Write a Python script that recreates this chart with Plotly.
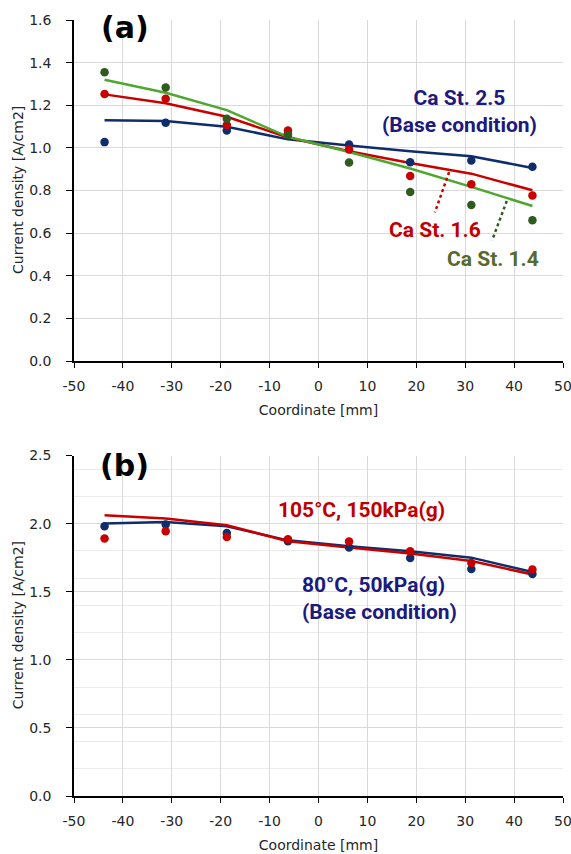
import plotly.graph_objects as go

# ---------------- data ----------------
x_mm = [-43.75, -31.25, -18.75, -6.25, 6.25, 18.75, 31.25, 43.75]

# panel (a): cathode stoichiometry
a_ca25_pts = [1.027, 1.118, 1.082, 1.065, 1.016, 0.933, 0.941, 0.911]
a_ca25_line = [1.130, 1.126, 1.099, 1.040, 1.011, 0.984, 0.961, 0.906]
a_ca16_pts = [1.253, 1.231, 1.107, 1.082, 0.992, 0.868, 0.829, 0.777]
a_ca16_line = [1.251, 1.209, 1.146, 1.049, 0.984, 0.929, 0.879, 0.801]
a_ca14_pts = [1.355, 1.283, 1.137, 1.060, 0.931, 0.793, 0.732, 0.660]
a_ca14_line = [1.320, 1.259, 1.177, 1.052, 0.981, 0.903, 0.817, 0.727]

# panel (b): temperature / pressure
b_base_pts = [1.980, 1.993, 1.931, 1.870, 1.824, 1.748, 1.667, 1.630]
b_base_line = [2.000, 2.012, 1.980, 1.877, 1.833, 1.797, 1.750, 1.645]
b_hot_pts = [1.890, 1.944, 1.902, 1.885, 1.868, 1.797, 1.711, 1.663]
b_hot_line = [2.061, 2.037, 1.988, 1.870, 1.824, 1.780, 1.726, 1.626]

x_ticks = [-50, -40, -30, -20, -10, 0, 10, 20, 30, 40, 50]
x_ticktext = ["-50", "-40", "-30", "-20", "-10", "0", "10", "20", "30", "40", "50"]
ya_ticks = [0.0, 0.2, 0.4, 0.6, 0.8, 1.0, 1.2, 1.4, 1.6]
yb_ticks = [0.0, 0.5, 1.0, 1.5, 2.0, 2.5]

# ---------------- styles ----------------
NAVY = "#0f2d6b"
RED = "#c80000"
GREEN_L = "#4ea72e"
GREEN_D = "#2f5b1f"
TXT_NAVY = "#1c1a7c"
TXT_RED = "#c00000"
TXT_GREEN = "#56692e"
NARROW = "Roboto, sans-serif"
AXFONT = "DejaVu Sans, sans-serif"
TICKFONT = dict(family=AXFONT, size=14, color="#262626")
TITLEFONT = dict(family=AXFONT, size=14, color="#262626")

fig = go.Figure()


def add_line(x, y, color, xa, ya):
    fig.add_trace(go.Scatter(x=x, y=y, mode="lines", line=dict(color=color, width=2.5),
                             xaxis=xa, yaxis=ya, showlegend=False, hoverinfo="skip"))


def add_pts(x, y, color, xa, ya):
    fig.add_trace(go.Scatter(x=x, y=y, mode="markers", marker=dict(color=color, size=8.5),
                             xaxis=xa, yaxis=ya, showlegend=False))


# panel a
add_line(x_mm, a_ca25_line, NAVY, "x", "y")
add_line(x_mm, a_ca16_line, RED, "x", "y")
add_line(x_mm, a_ca14_line, GREEN_L, "x", "y")
add_pts(x_mm, a_ca25_pts, NAVY, "x", "y")
add_pts(x_mm, a_ca16_pts, RED, "x", "y")
add_pts(x_mm, a_ca14_pts, GREEN_D, "x", "y")

# panel b
add_line(x_mm, b_base_line, NAVY, "x2", "y2")
add_line(x_mm, b_hot_line, RED, "x2", "y2")
add_pts(x_mm, b_base_pts, NAVY, "x2", "y2")
add_pts(x_mm, b_hot_pts, RED, "x2", "y2")

W, H = 571, 854
PL, PR = 74, 571 - 563          # plot area x: 74..563
PT, PB = 20, 796                # plot area y: 20..796
PH = PB - PT
ya_dom = [(PB - 361) / PH, 1.0]
yb_dom = [0.0, (PB - 455.5) / PH]

xcommon = dict(range=[-50, 50], tickmode="array", tickvals=x_ticks, ticktext=x_ticktext,
               showgrid=True, gridcolor="#d9d9d9", gridwidth=1,
               showline=True, linecolor="black", linewidth=1.5,
               ticks="outside", ticklen=5, tickcolor="black", tickwidth=1.2,
               tickfont=TICKFONT, ticklabelstandoff=6, ticklabeloverflow="allow",
               zeroline=False, automargin=False,
               title=dict(text="Coordinate [mm]", font=TITLEFONT, standoff=13))
ycommon = dict(showgrid=True, gridcolor="#d9d9d9", gridwidth=1,
               showline=True, linecolor="black", linewidth=1.5,
               ticks="outside", ticklen=6, tickcolor="black", tickwidth=1.2,
               tickfont=TICKFONT, ticklabelstandoff=12, ticklabeloverflow="allow",
               zeroline=False, automargin=False)

fig.update_layout(
    width=W, height=H,
    margin=dict(l=PL, r=PR, t=PT, b=H - PB),
    paper_bgcolor="white", plot_bgcolor="white",
    xaxis=dict(**xcommon, anchor="y"),
    yaxis=dict(**ycommon, range=[0, 1.6], tickmode="array", tickvals=ya_ticks,
               ticktext=[f"{v:.1f}" for v in ya_ticks], domain=ya_dom, anchor="x"),
    xaxis2=dict(**xcommon, anchor="y2"),
    yaxis2=dict(**ycommon, range=[0, 2.5], tickmode="array", tickvals=yb_ticks,
                ticktext=[f"{v:.1f}" for v in yb_ticks], domain=yb_dom, anchor="x2",
                minor=dict(tickmode="linear", dtick=0.2, tick0=0, showgrid=True,
                           gridcolor="#ebebeb", gridwidth=1, ticks="")),
)

plot_w = W - PL - PR
ytitle_x = (17.5 - PL) / plot_w

LBL = dict(family="DejaVu Sans, sans-serif", size=30, color="black")
ann = []
ann.append(dict(x=ytitle_x, y=0.5, xref="paper", yref="y domain", text="Current density [A/cm2]",
                textangle=-90, showarrow=False, xanchor="center", yanchor="middle", font=TITLEFONT))
ann.append(dict(x=ytitle_x, y=0.5, xref="paper", yref="y2 domain", text="Current density [A/cm2]",
                textangle=-90, showarrow=False, xanchor="center", yanchor="middle", font=TITLEFONT))
ann.append(dict(x=-39.6, y=1.565, xref="x", yref="y", text="<b>(a)</b>", showarrow=False, font=LBL))
ann.append(dict(x=-39.6, y=2.43, xref="x2", yref="y2", text="<b>(b)</b>", showarrow=False, font=LBL))
ann.append(dict(x=28.9, y=1.172, xref="x", yref="y", text="<b>Ca St. 2.5<br>(Base condition)</b>",
                showarrow=False, font=dict(family=NARROW, size=21, color=TXT_NAVY)))
ann.append(dict(x=23.8, y=0.613, xref="x", yref="y", text="<b>Ca St. 1.6</b>",
                showarrow=False, font=dict(family=NARROW, size=21, color=TXT_RED)))
ann.append(dict(x=35.7, y=0.48, xref="x", yref="y", text="<b>Ca St. 1.4</b>",
                showarrow=False, font=dict(family=NARROW, size=21, color=TXT_GREEN)))
ann.append(dict(x=8.7, y=2.103, xref="x2", yref="y2", text="<b>105°C, 150kPa(g)</b>",
                showarrow=False, font=dict(family=NARROW, size=21, color=TXT_RED)))
ann.append(dict(x=-3.8, y=1.45, xref="x2", yref="y2", text="<b>80°C, 50kPa(g)<br>(Base condition)</b>",
                showarrow=False, xanchor="left", align="left",
                font=dict(family=NARROW, size=21, color=TXT_NAVY)))
fig.update_layout(annotations=ann)

fig.add_shape(type="line", x0=26.7, y0=0.886, x1=23.8, y1=0.697, xref="x", yref="y",
              line=dict(color=RED, width=2.5, dash="dot"))
fig.add_shape(type="line", x0=38.5, y0=0.751, x1=35.5, y1=0.566, xref="x", yref="y",
              line=dict(color=GREEN_D, width=2.5, dash="dot"))

# remove the default 8px page margin so the figure fills the window exactly
PAGE_CSS = "document.body.style.margin='0';document.body.style.overflow='hidden';"
fig.write_html("out.html", post_script=PAGE_CSS, config={"displayModeBar": False})
